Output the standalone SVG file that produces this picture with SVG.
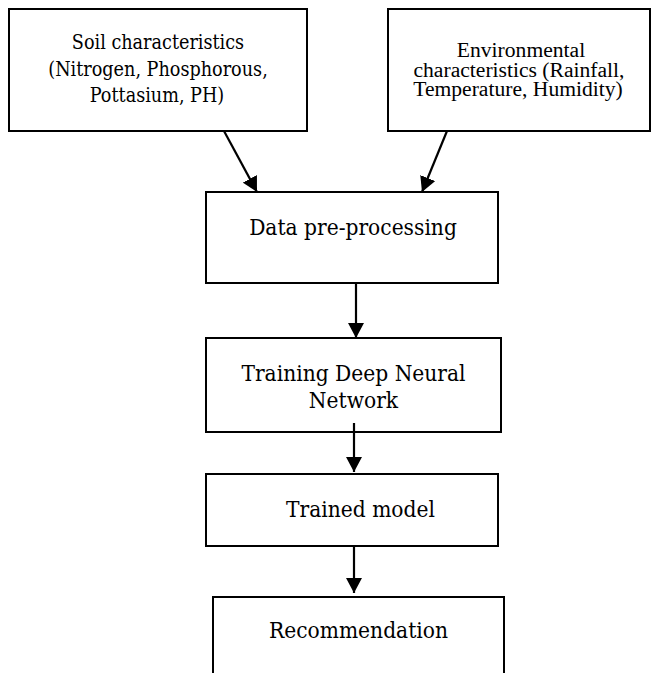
<svg xmlns="http://www.w3.org/2000/svg" width="652" height="673" viewBox="0 0 652 673">
<style>
.box{fill:#fff;stroke:#000;stroke-width:2}
.c{font-family:"DejaVu Serif Condensed","DejaVu Serif","Liberation Serif",serif;font-size:22.5px;fill:#000;text-anchor:middle}
.s{font-size:19.6px}
.t{font-family:"Liberation Serif","Times New Roman",serif;font-size:21.6px;fill:#000;text-anchor:middle}
.e{stroke:#000;stroke-width:2.2;fill:none}
</style>
<defs>
<marker id="ah" markerWidth="16" markerHeight="16" viewBox="0 0 16 16" refX="15" refY="8" orient="auto" markerUnits="userSpaceOnUse">
<path d="M0,0 L15,8 L0,16 z" fill="#000"/>
</marker>
</defs>
<g id="soil">
<rect class="box" x="9" y="9" width="298" height="122"/>
<text class="c s" x="158" y="49">Soil characteristics</text>
<text class="c s" x="158" y="76">(Nitrogen, Phosphorous,</text>
<text class="c s" x="157" y="102">Pottasium, PH)</text>
</g>
<g id="env">
<rect class="box" x="388" y="9" width="262" height="122"/>
<text class="t" x="521" y="57">Environmental</text>
<text class="t" x="519" y="77">characteristics (Rainfall,</text>
<text class="t" x="518" y="96">Temperature, Humidity)</text>
</g>
<g id="prep">
<rect class="box" x="206" y="192" width="292" height="91"/>
<text class="c" x="353" y="235">Data pre-processing</text>
</g>
<g id="train">
<rect class="box" x="206" y="338" width="295" height="94"/>
<text class="c" x="353.5" y="381">Training Deep Neural</text>
<text class="c" x="353.5" y="408">Network</text>
</g>
<g id="model">
<rect class="box" x="206" y="474" width="292" height="72"/>
<text class="c" x="360.5" y="517">Trained model</text>
</g>
<g id="rec">
<rect class="box" x="213" y="597" width="291" height="90"/>
<text class="c" x="358.5" y="638">Recommendation</text>
</g>
<g id="connectors">
<line class="e" x1="224" y1="131" x2="257" y2="192" marker-end="url(#ah)"/>
<line class="e" x1="447" y1="131" x2="422" y2="192" marker-end="url(#ah)"/>
<line class="e" x1="356" y1="283" x2="356" y2="338" marker-end="url(#ah)"/>
<line class="e" x1="354" y1="423" x2="354" y2="472" marker-end="url(#ah)"/>
<line class="e" x1="354" y1="546" x2="354" y2="593" marker-end="url(#ah)"/>
</g>
</svg>
